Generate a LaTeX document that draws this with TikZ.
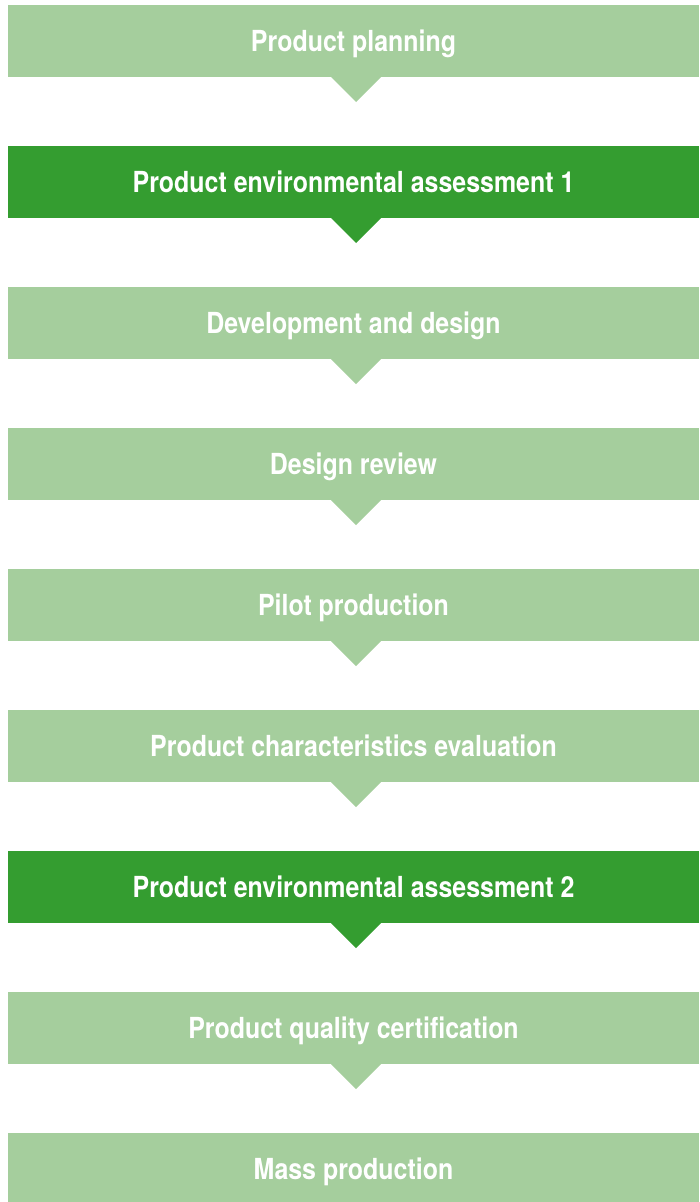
\documentclass[tikz,border=0pt]{standalone}
\usepackage{fontspec}
\setmainfont[FakeStretch=0.86]{TeX Gyre Heros}
\usepackage{tikz}
\usetikzlibrary{positioning}
\definecolor{stepc}{RGB}{165,206,157}
\definecolor{assessc}{RGB}{52,157,48}

\begin{document}
\begin{tikzpicture}[x=1pt, y=1pt,
    every node/.style={font=\fontsize{29}{32}\selectfont\bfseries, text=white},
    stepbox/.style={fill=stepc, minimum width=691pt, minimum height=72pt,
      inner sep=0pt, outer sep=0pt, text height=21pt, text depth=0pt},
    assessbox/.style={stepbox, fill=assessc}]
  \useasboundingbox (0,0) rectangle (699,-1202);
  % process steps
  \node[stepbox] (plan) at (353.5,-41) {Product planning};
  \node[assessbox, below=69pt of plan] (assessA) {Product environmental assessment 1};
  \node[stepbox, below=69pt of assessA] (devel) {Development and design};
  \node[stepbox, below=69pt of devel] (review) {Design review};
  \node[stepbox, below=69pt of review] (pilot) {Pilot production};
  \node[stepbox, below=69pt of pilot] (charac) {Product characteristics evaluation};
  \node[assessbox, below=69pt of charac] (assessB) {Product environmental assessment 2};
  \node[stepbox, below=69pt of assessB] (quality) {Product quality certification};
  \node[stepbox, below=69pt of quality] (mass) {Mass production};
  % pointers between steps
  \foreach \n/\c in {plan/stepc, assessA/assessc, devel/stepc, review/stepc,
      pilot/stepc, charac/stepc, assessB/assessc, quality/stepc} {
    \fill[\c] ([xshift=-22.5pt]\n.south) -- ([xshift=27.5pt]\n.south)
      -- ([xshift=2.5pt, yshift=-25pt]\n.south) -- cycle;
  }
\end{tikzpicture}
\end{document}
